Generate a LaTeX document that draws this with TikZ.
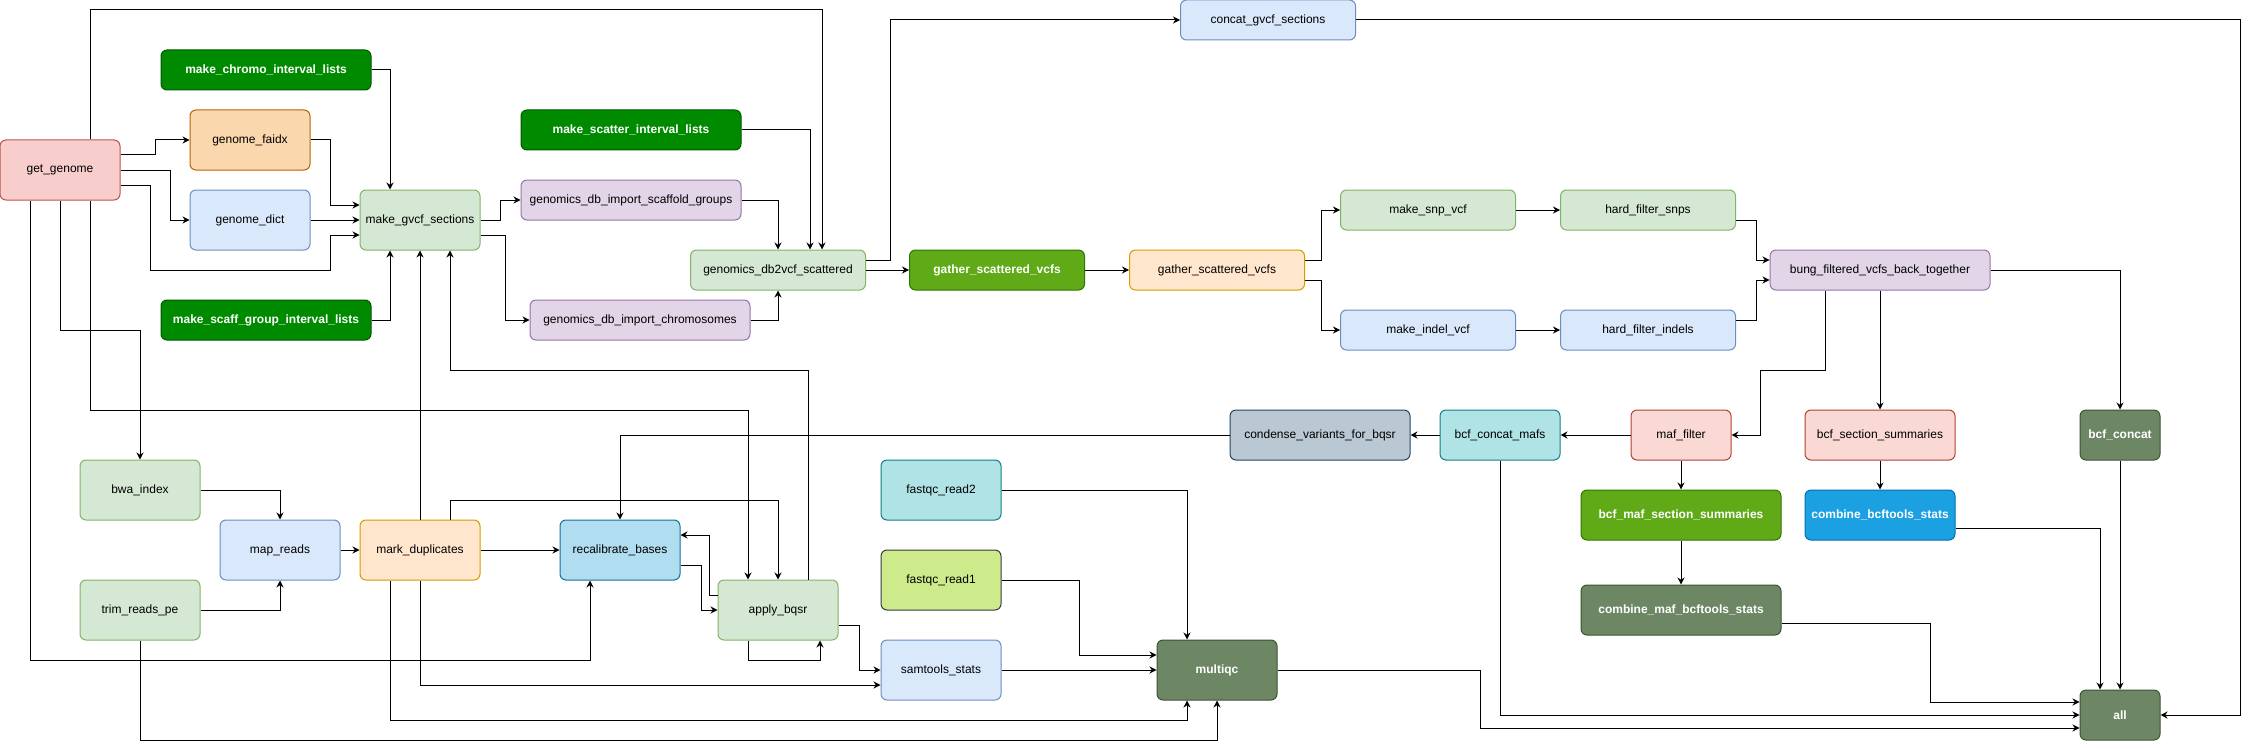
\documentclass[tikz,border=0pt]{standalone}
\usepackage{fontspec}
\setmainfont{Liberation Sans}
\usetikzlibrary{arrows.meta,positioning}

\definecolor{fgreen}{HTML}{D5E8D4}\definecolor{dgreen}{HTML}{82B366}
\definecolor{fblue}{HTML}{DAE8FC}\definecolor{dblue}{HTML}{6C8EBF}
\definecolor{fpurple}{HTML}{E1D5E7}\definecolor{dpurple}{HTML}{9673A6}
\definecolor{forange}{HTML}{FFE6CC}\definecolor{dorange}{HTML}{D79B00}
\definecolor{fred}{HTML}{F8CECC}\definecolor{dred}{HTML}{B85450}
\definecolor{fsalmon}{HTML}{FAD9D5}\definecolor{dsalmon}{HTML}{AE4132}
\definecolor{fpeach}{HTML}{FAD7AC}\definecolor{dpeach}{HTML}{B46504}
\definecolor{fteal}{HTML}{B0E3E6}\definecolor{dteal}{HTML}{0E8088}
\definecolor{fslate}{HTML}{BAC8D3}\definecolor{dslate}{HTML}{23445D}
\definecolor{fcyan}{HTML}{B1DDF0}\definecolor{dcyan}{HTML}{10739E}
\definecolor{flime}{HTML}{CDEB8B}\definecolor{dlime}{HTML}{36393D}
\definecolor{fdark}{HTML}{008A00}\definecolor{ddark}{HTML}{005700}
\definecolor{fmid}{HTML}{60A917}\definecolor{dmid}{HTML}{2D7600}
\definecolor{folive}{HTML}{6D8764}\definecolor{dolive}{HTML}{3A5431}
\definecolor{fazure}{HTML}{1BA1E2}\definecolor{dazure}{HTML}{006EAF}

\begin{document}
\begin{tikzpicture}[x=1pt, y=-1pt, node distance=120pt, line width=1pt,
  >={Stealth[length=7pt, width=7pt]},
  box/.style={shape=rectangle, rounded corners=6pt, draw, inner sep=0pt,
    minimum width=120pt, minimum height=60pt, font=\fontsize{12}{14}\selectfont},
  sgreen/.style={box, fill=fgreen, draw=dgreen},
  sblue/.style={box, fill=fblue, draw=dblue},
  spurple/.style={box, fill=fpurple, draw=dpurple},
  sorange/.style={box, fill=forange, draw=dorange},
  sred/.style={box, fill=fred, draw=dred},
  ssalmon/.style={box, fill=fsalmon, draw=dsalmon},
  speach/.style={box, fill=fpeach, draw=dpeach},
  steal/.style={box, fill=fteal, draw=dteal},
  sslate/.style={box, fill=fslate, draw=dslate},
  scyan/.style={box, fill=fcyan, draw=dcyan},
  slime/.style={box, fill=flime, draw=dlime},
  sdark/.style={box, fill=fdark, draw=ddark, text=white, font=\fontsize{12}{14}\selectfont\bfseries},
  smid/.style={box, fill=fmid, draw=dmid, text=white, font=\fontsize{12}{14}\selectfont\bfseries},
  solive/.style={box, fill=folive, draw=dolive, text=white, font=\fontsize{12}{14}\selectfont\bfseries},
  sazure/.style={box, fill=fazure, draw=dazure, text=white, font=\fontsize{12}{14}\selectfont\bfseries}]
\useasboundingbox (0,0) rectangle (2249,749);

\node [sred] (GG) at (60,170) {get\_genome};
\node [speach, right of=GG, node distance=190pt, yshift=30pt] (FAI) {genome\_faidx};
\node [sblue, below of=FAI, node distance=80pt] (DICT) {genome\_dict};
\node [sdark, above of=FAI, node distance=70pt, xshift=16pt, minimum width=210pt, minimum height=40pt] (CHR) {make\_chromo\_interval\_lists};
\node [sdark, below of=DICT, node distance=100pt, xshift=16pt, minimum width=210pt, minimum height=40pt] (SCG) {make\_scaff\_group\_interval\_lists};
\node [sgreen, right of=DICT, node distance=170pt] (GVCF) {make\_gvcf\_sections};
\node [spurple, right of=GVCF, node distance=211pt, yshift=20pt, minimum width=220pt, minimum height=40pt] (IMS) {genomics\_db\_import\_scaffold\_groups};
\node [sdark, above of=IMS, node distance=70pt, minimum width=220pt, minimum height=40pt] (SCT) {make\_scatter\_interval\_lists};
\node [spurple, below of=IMS, node distance=120pt, xshift=9pt, minimum width=220pt, minimum height=40pt] (IMC) {genomics\_db\_import\_chromosomes};
\node [sgreen, right of=GVCF, node distance=358pt, yshift=-50pt, minimum width=175pt, minimum height=40pt] (DB2) {genomics\_db2vcf\_scattered};
\node [smid, right of=DB2, node distance=219pt, minimum width=175pt, minimum height=40pt] (GSG) {gather\_scattered\_vcfs};
\node [sorange, right of=GSG, node distance=220pt, minimum width=175pt, minimum height=40pt] (GSO) {gather\_scattered\_vcfs};
\node [sblue, above of=GSO, node distance=250pt, xshift=51pt, minimum width=175pt, minimum height=40pt] (CON) {concat\_gvcf\_sections};
\node [sgreen, right of=GSO, node distance=211pt, yshift=60pt, minimum width=175pt, minimum height=40pt] (SNP) {make\_snp\_vcf};
\node [sblue, below of=SNP, node distance=120pt, minimum width=175pt, minimum height=40pt] (IND) {make\_indel\_vcf};
\node [sgreen, right of=SNP, node distance=220pt, minimum width=175pt, minimum height=40pt] (HFS) {hard\_filter\_snps};
\node [sblue, right of=IND, node distance=220pt, minimum width=175pt, minimum height=40pt] (HFI) {hard\_filter\_indels};
\node [spurple, right of=GSO, node distance=663pt, minimum width=220pt, minimum height=40pt] (BUNG) {bung\_filtered\_vcfs\_back\_together};
\node [ssalmon, below of=BUNG, node distance=165pt, minimum width=150pt, minimum height=50pt] (BSS) {bcf\_section\_summaries};
\node [sazure, below of=BSS, node distance=80pt, minimum width=150pt, minimum height=50pt] (CBS) {combine\_bcftools\_stats};
\node [solive, right of=BSS, node distance=240pt, minimum width=80pt, minimum height=50pt] (BCC) {bcf\_concat};
\node [solive, below of=BCC, node distance=280pt, minimum width=80pt, minimum height=50pt] (ALL) {all};
\node [ssalmon, left of=BSS, node distance=199pt, minimum width=100pt, minimum height=50pt] (MAF) {maf\_filter};
\node [smid, below of=MAF, node distance=80pt, minimum width=200pt, minimum height=50pt] (BMS) {bcf\_maf\_section\_summaries};
\node [solive, below of=BMS, node distance=95pt, minimum width=200pt, minimum height=50pt] (CMB) {combine\_maf\_bcftools\_stats};
\node [steal, left of=MAF, node distance=181pt, minimum height=50pt] (BCM) {bcf\_concat\_mafs};
\node [sslate, left of=BCM, node distance=180pt, minimum width=180pt, minimum height=50pt] (CVB) {condense\_variants\_for\_bqsr};
\node [sgreen, below of=GG, node distance=320pt, xshift=80pt] (BWA) {bwa\_index};
\node [sgreen, below of=BWA, node distance=120pt] (TRIM) {trim\_reads\_pe};
\node [sblue, right of=BWA, node distance=140pt, yshift=-60pt] (MAP) {map\_reads};
\node [sorange, right of=MAP, node distance=140pt] (MDP) {mark\_duplicates};
\node [scyan, right of=MDP, node distance=200pt] (RCB) {recalibrate\_bases};
\node [sgreen, right of=RCB, node distance=158pt, yshift=-60pt] (ABQ) {apply\_bqsr};
\node [slime, right of=ABQ, node distance=163pt, yshift=30pt] (FQ1) {fastqc\_read1};
\node [steal, above of=FQ1, node distance=90pt] (FQ2) {fastqc\_read2};
\node [sblue, below of=FQ1, node distance=90pt] (SAM) {samtools\_stats};
\node [solive, right of=SAM, node distance=276pt] (MQC) {multiqc};

\draw[->] ([yshift=15pt]GG.east) -- ++(35,0) |- (FAI);
\draw[->] (GG.east) -- ++(50,0) |- (DICT);
\draw[->] ([yshift=-15pt]GG.east) -- ++(30,0) |- (330,270) |- ([yshift=-15pt]GVCF.west);
\draw[->] (FAI.east) -- ++(20,0) |- ([yshift=15pt]GVCF.west);
\draw[->] (DICT) -- (GVCF);
\draw[->] (CHR.east) -| ([xshift=-30pt]GVCF.north);
\draw[->] (SCG.east) -| ([xshift=-30pt]GVCF.south);
\draw[->] (MDP) -- (GVCF);
\draw[->] ([xshift=30pt]ABQ.north) |- (450,370) -- ([xshift=30pt]GVCF.south);
\draw[->] (GVCF.east) -- ++(20,0) |- (IMS);
\draw[->] ([yshift=-15pt]GVCF.east) -- ++(25,0) |- (IMC);
\draw[->] (IMS.east) -| (DB2.north);
\draw[->] (SCT.east) -| ([xshift=32pt]DB2.north);
\draw[->] ([xshift=30pt]GG.north) |- (822,10) -- ([xshift=44pt]DB2.north);
\draw[->] (IMC.east) -| (DB2.south);
\draw[->] ([yshift=10pt]DB2.east) -- ++(24,0) |- (CON);
\draw[->] (DB2) -- (GSG);
\draw[->] (GSG) -- (GSO);
\draw[->] ([yshift=10pt]GSO.east) -- ++(16,0) |- (SNP);
\draw[->] ([yshift=-10pt]GSO.east) -- ++(16,0) |- (IND);
\draw[->] (SNP) -- (HFS);
\draw[->] (IND) -- (HFI);
\draw[->] ([yshift=-10pt]HFS.east) -- ++(20,0) |- ([yshift=10pt]BUNG.west);
\draw[->] ([yshift=10pt]HFI.east) -- ++(20,0) |- ([yshift=-10pt]BUNG.west);
\draw[->] (CON.east) -- (2240,20) |- (ALL);
\draw[->] ([xshift=-55pt]BUNG.south) |- (1760,370) |- (MAF);
\draw[->] (BUNG) -- (BSS);
\draw[->] (BUNG.east) -| (BCC);
\draw[->] (MAF) -- (BCM);
\draw[->] (BCM) -- (CVB);
\draw[->] (CVB.west) -| (RCB);
\draw[->] (MAF) -- (BMS);
\draw[->] (BMS) -- (CMB);
\draw[->] (BSS) -- (CBS);
\draw[->] (BCM.south) |- (ALL);
\draw[->] ([yshift=-13pt]CMB.east) -| (1930,702) -- ([yshift=13pt]ALL.west);
\draw[->] (MQC.east) -| (1480,728) -- ([yshift=-13pt]ALL.west);
\draw[->] ([yshift=-13pt]CBS.east) -| ([xshift=-20pt]ALL.north);
\draw[->] (BCC) -- (ALL);
\draw[->] (GG.south) |- (140,330) -- (BWA);
\draw[->] ([xshift=-30pt]GG.south) |- (590,660) -- ([xshift=-30pt]RCB.south);
\draw[->] ([xshift=30pt]GG.south) |- (748,410) -- ([xshift=-30pt]ABQ.north);
\draw[->] (BWA.east) -| (MAP);
\draw[->] (TRIM.east) -| (MAP);
\draw[->] (MAP) -- (MDP);
\draw[->] (MDP) -- (RCB);
\draw[->] ([xshift=30pt]MDP.north) |- (778,500) -- (ABQ);
\draw[->] ([yshift=-15pt]RCB.east) -- ++(21,0) |- (ABQ);
\draw[->] ([yshift=15pt]ABQ.west) -- ++(-8,0) |- ([yshift=15pt]RCB.east);
\draw[->] ([xshift=-30pt]ABQ.south) -- ++(0,20) -| ([xshift=42pt]ABQ.south);
\draw[->] ([yshift=-15pt]ABQ.east) -- ++(21,0) |- (SAM);
\draw[->] (MDP.south) |- ([yshift=-15pt]SAM.west);
\draw[->] ([xshift=-30pt]MDP.south) |- (1187,720) -- ([xshift=-30pt]MQC.south);
\draw[->] (TRIM.south) |- (1217,740) -- (MQC);
\draw[->] (FQ2.east) -| ([xshift=-30pt]MQC.north);
\draw[->] (FQ1.east) -- (1079,580) |- ([yshift=15pt]MQC.west);
\draw[->] (SAM) -- (MQC);
\end{tikzpicture}
\end{document}
